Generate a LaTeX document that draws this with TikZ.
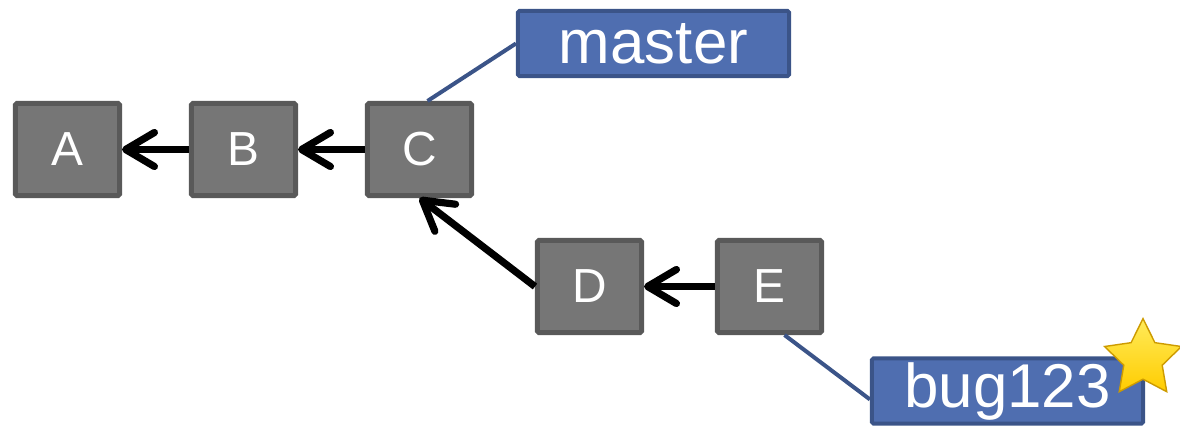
\documentclass[tikz,border=0pt]{standalone}
\usepackage{fontspec}
\setmainfont{Liberation Sans}
\usepackage{tikz}
\usetikzlibrary{arrows.meta,shapes.geometric}

\definecolor{commitfill}{RGB}{118,118,118}
\definecolor{commitline}{RGB}{89,89,89}
\definecolor{branchfill}{RGB}{79,110,176}
\definecolor{branchline}{RGB}{59,84,136}
\definecolor{stargold}{RGB}{255,204,0}
\definecolor{starlight}{RGB}{255,235,90}
\definecolor{staredge}{RGB}{205,155,0}

\begin{document}
\begin{tikzpicture}[x=0.025cm,y=-0.025cm,
        commit/.style={draw=commitline, fill=commitfill, line width=0.125cm,
                       rounded corners=1pt, minimum width=2.6cm, minimum height=2.3cm,
                       text=white, font=\fontsize{34}{40}\selectfont, inner sep=0pt},
        branch/.style={draw=branchline, fill=branchfill, line width=0.1cm,
                       rounded corners=1pt, minimum width=6.775cm, minimum height=1.625cm,
                       text=white, font=\fontsize{44}{50}\selectfont, inner sep=0pt},
        parent/.style={-{Straight Barb[length=0.72cm,width=0.85cm,round]}, line width=0.18cm, black},
        pointer/.style={draw=branchline, line width=0.1cm}]
                \useasboundingbox (0,0) rectangle (1180,429);

                \node[commit] (A) at (67.5,149.5)  {A};
                \node[commit] (B) at (243.5,149.5) {B};
                \node[commit] (C) at (419.5,149.5) {C};
                \node[commit] (D) at (589.5,286.5) {D};
                \node[commit] (E) at (769.5,286.5) {E};

                \node[branch] (master) at (653.5,43.5) {master};
                \node[branch] (bug123) at (1007.5,391)  {bug123};

                \node[star, star points=5, star point ratio=2.0, minimum size=2.02cm,
                      inner sep=0pt, top color=starlight, bottom color=stargold,
                      draw=staredge, line width=1pt]
                      (current) at (1143,359) {};

                \path[parent]
                (B.west) edge (A.east)
                (C.west) edge (B.east)
                (D.west) edge (C.south)
                (E.west) edge (D.east);

                \draw[pointer] (C.north) ++(8,0) coordinate (Ctop) -- (master.west);
                \draw[pointer] (E.south) ++(15,0) coordinate (Ebot) -- ([yshift=-6]bug123.west);
            \end{tikzpicture}
\end{document}
